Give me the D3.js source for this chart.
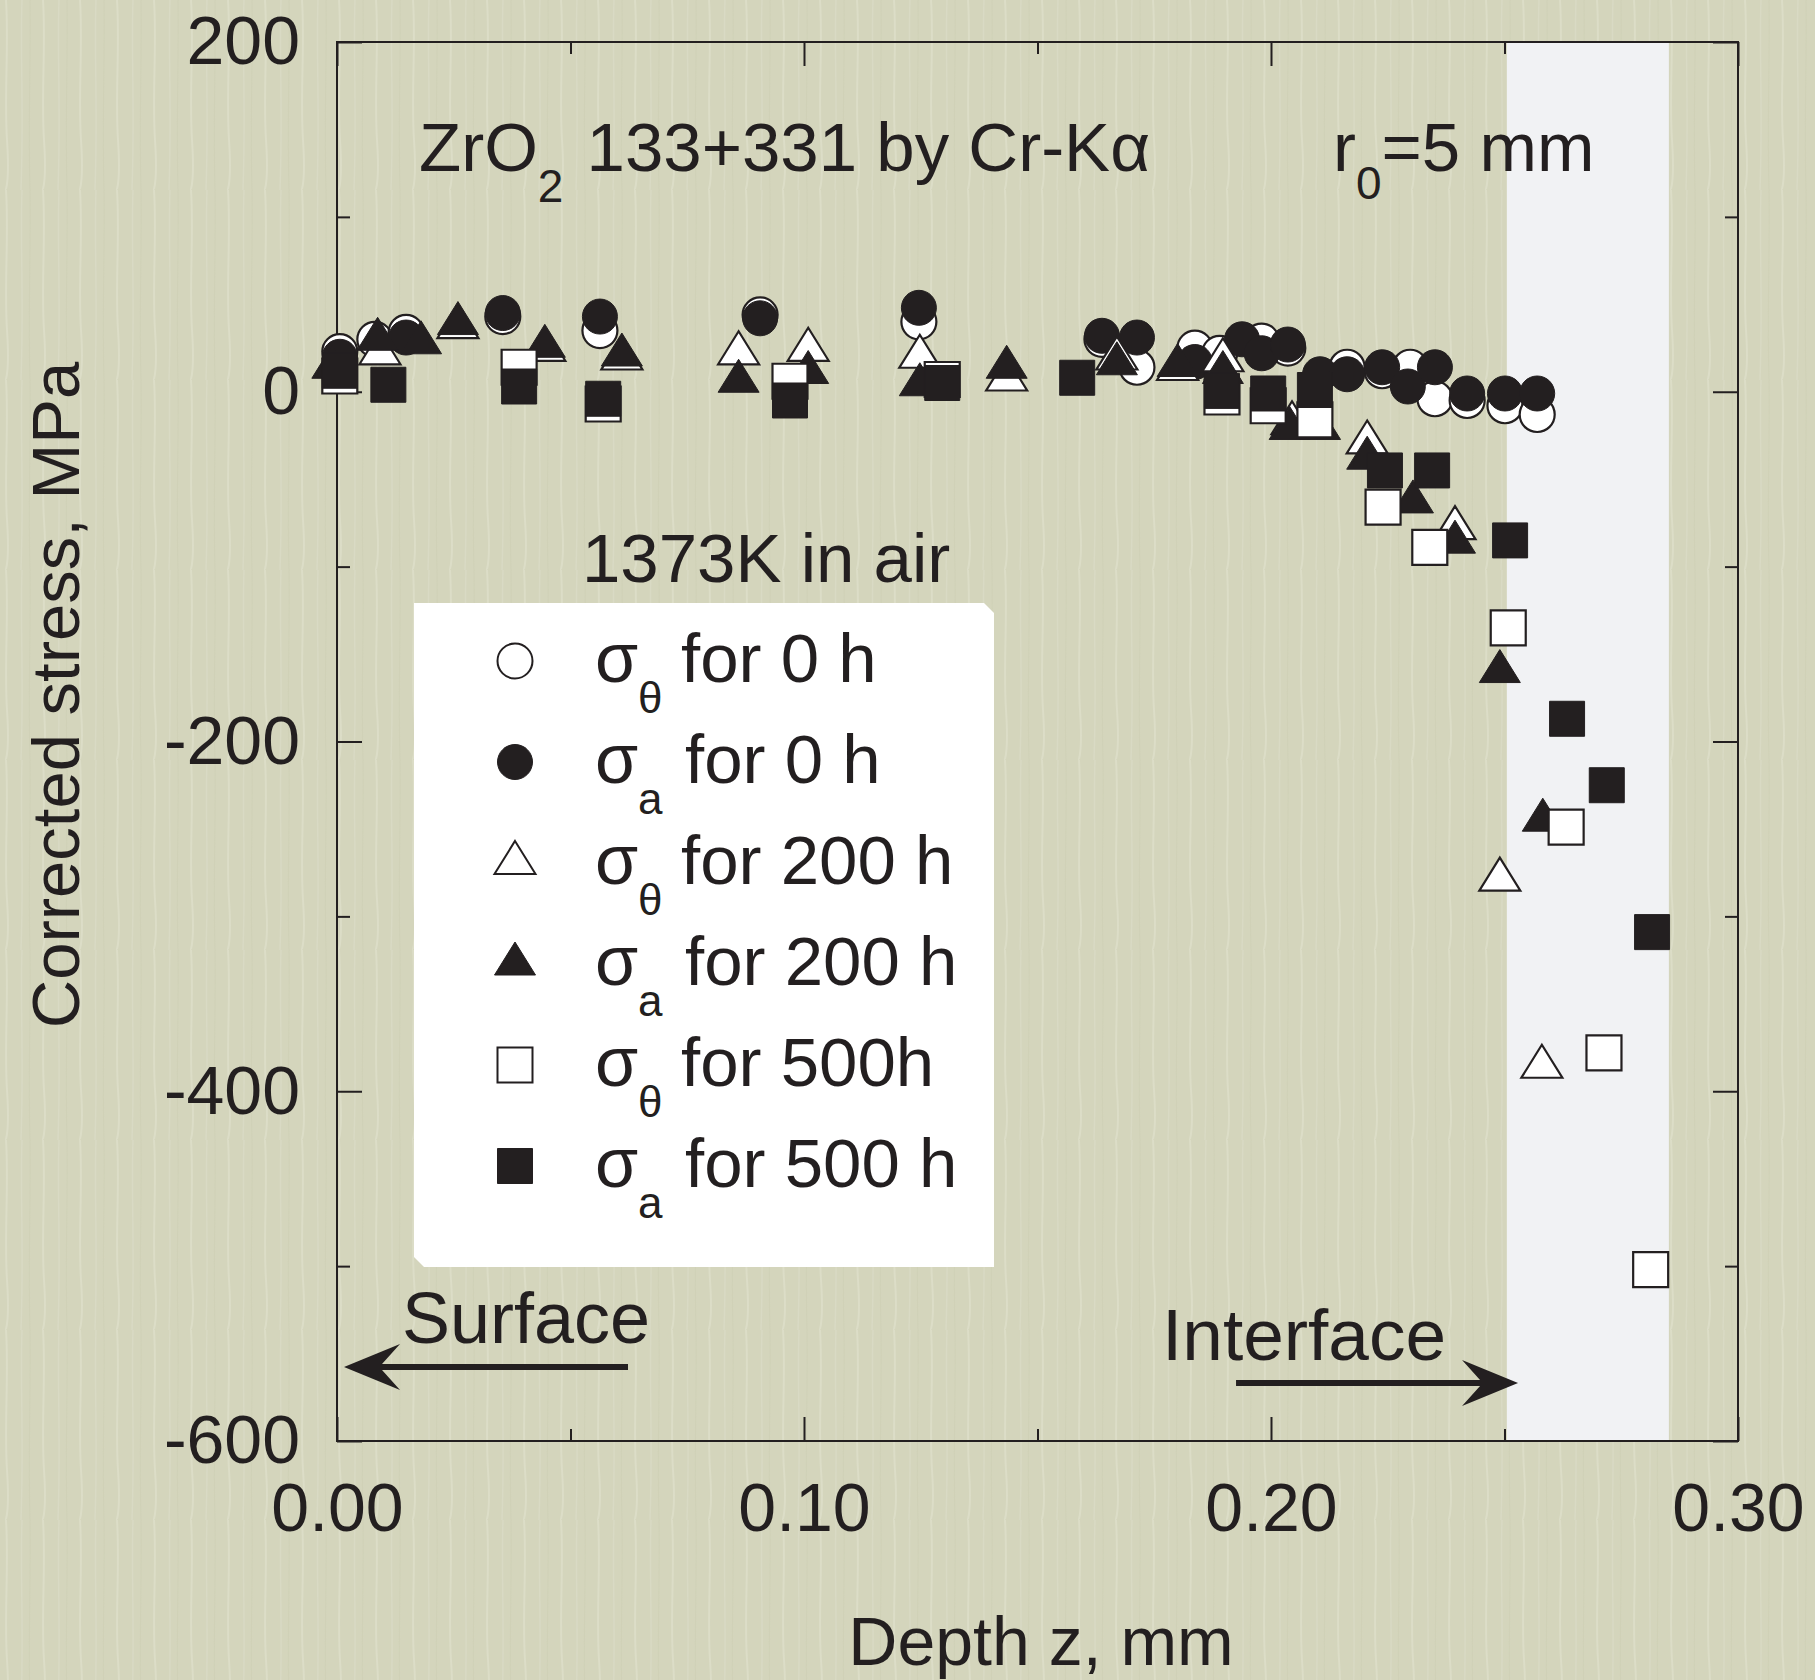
<!DOCTYPE html>
<meta charset="utf-8">
<style>
  body { margin: 0; background: #d4d5bc; }
  svg text { font-family: "Liberation Sans", Arial, Helvetica, sans-serif; fill: #231f20; }
  .axis path { display: none; }
  .axis line { stroke: #231f20; stroke-width: 2px; }
  .axis text { font-family: "Liberation Sans", Arial, sans-serif; font-size: 68px; fill: #231f20; }
</style>
<svg width="1815" height="1680"></svg>
<script src="https://d3js.org/d3.v7.min.js"></script>
<script>
  // tick values and labels
  var xMajorTicks = [0, 0.10, 0.20, 0.30];
  var xMinorTicks = [0.05, 0.15, 0.25];
  var xTickLabels = ["0.00", "0.10", "0.20", "0.30"];
  var yMajorTicks = [200, 0, -200, -400, -600];
  var yMinorTicks = [100, -100, -300, -500];
  var yTickLabels = ["200", "0", "-200", "-400", "-600"];

  // shaded interface zone (depth, mm)
  var interfaceZone = [0.2505, 0.2852];

  // [depth mm, stress MPa]
  var sigmaTheta0h = [[0.0006, 23], [0.0081, 30], [0.0148, 34], [0.0355, 43], [0.0563, 35], [0.0906, 44],
    [0.1246, 40], [0.1638, 30], [0.1713, 14], [0.1837, 25], [0.189, 22], [0.198, 29], [0.2036, 25],
    [0.2163, 14], [0.2238, 12], [0.2298, 14], [0.2351, -4], [0.242, -5], [0.2501, -8], [0.257, -13]];
  var sigmaA0h = [[0.0006, 20], [0.0148, 31], [0.0355, 45], [0.0563, 43], [0.0906, 42], [0.1246, 48],
    [0.1638, 32], [0.1713, 31], [0.1837, 17], [0.1938, 30], [0.198, 22], [0.2036, 27], [0.2105, 10],
    [0.2163, 10], [0.2238, 14], [0.2293, 3], [0.2351, 14], [0.242, -1], [0.2501, -1], [0.257, -1]];
  var sigmaTheta200h = [[0.0092, 22], [0.0259, 37], [0.0445, 24], [0.061, 19], [0.086, 22], [0.1009, 24],
    [0.1248, 20], [0.1434, 7], [0.167, 19], [0.18, 13], [0.1897, 18], [0.2045, -18], [0.2206, -29],
    [0.2394, -78], [0.249, -279], [0.258, -386]];
  var sigmaA200h = [[-0.001, 14], [0.0087, 30], [0.018, 28], [0.0259, 39], [0.0445, 26], [0.061, 21],
    [0.086, 6], [0.1009, 11], [0.1248, 4], [0.1434, 14], [0.167, 16], [0.18, 15], [0.1897, 11],
    [0.204, -21], [0.2105, -21], [0.2206, -38], [0.2304, -63], [0.2394, -86], [0.249, -160], [0.2582, -245]];
  var sigmaTheta500h = [[0.0006, 9], [0.039, 14], [0.057, -7], [0.097, 6], [0.1296, 7], [0.1895, -3],
    [0.1994, -8], [0.2094, -16], [0.224, -66], [0.234, -89], [0.2508, -135], [0.2632, -249],
    [0.2713, -378], [0.2813, -502]];
  var sigmaA500h = [[0.0006, 12], [0.011, 4], [0.039, 3], [0.057, -4], [0.097, -5], [0.1296, 5],
    [0.1585, 8], [0.1895, 0.5], [0.1994, -1], [0.2094, 1], [0.2244, -45], [0.2345, -45], [0.2512, -85],
    [0.2634, -187], [0.2719, -225], [0.2816, -309]];

  var seriesNames = ["for 0 h", "for 0 h", "for 200 h", "for 200 h", "for 500h", "for 500 h"];
  var seriesSubs = ["\u03b8", "a", "\u03b8", "a", "\u03b8", "a"];

  var series = [
    { data: sigmaTheta0h, shape: "circle", filled: false },
    { data: sigmaA0h, shape: "circle", filled: true },
    { data: sigmaTheta200h, shape: "triangle", filled: false },
    { data: sigmaA200h, shape: "triangle", filled: true },
    { data: sigmaTheta500h, shape: "square", filled: false },
    { data: sigmaA500h, shape: "square", filled: true }
  ];

  var svg = d3.select("svg"),
    margin = { top: 42, right: 77, bottom: 239, left: 337 },
    width = +svg.attr("width") - margin.left - margin.right,
    height = +svg.attr("height") - margin.top - margin.bottom;

  var ink = "#231f20";

  // background with faint vertical grain
  var defs = svg.append("defs");
  var pat = defs.append("pattern").attr("id", "grain")
    .attr("patternUnits", "userSpaceOnUse").attr("width", 37).attr("height", 190);
  pat.append("rect").attr("width", 37).attr("height", 190).attr("fill", "#d4d5bc");
  pat.append("path").attr("d", "M6,0 C9,45 4,95 7,140 S5,190 6,190").attr("stroke", "#dcddc7")
    .attr("stroke-width", 2).attr("fill", "none");
  pat.append("path").attr("d", "M22,0 C20,50 24,110 21,190").attr("stroke", "#d9dac4")
    .attr("stroke-width", 1.5).attr("fill", "none");
  pat.append("path").attr("d", "M30,0 C31,60 28,120 30,190").attr("stroke", "#cdcfb4")
    .attr("stroke-width", 1.2).attr("fill", "none").attr("opacity", 0.6);
  svg.append("rect").attr("width", 1815).attr("height", 1680).attr("fill", "url(#grain)");

  var x = d3.scaleLinear().domain([0, 0.30]).range([0, width]);
  var y = d3.scaleLinear().domain([-600, 200]).range([height, 0]);

  var g = svg.append("g")
    .attr("transform", "translate(" + margin.left + "," + margin.top + ")");

  // interface zone
  g.append("rect")
    .attr("x", x(interfaceZone[0]))
    .attr("y", 0)
    .attr("width", x(interfaceZone[1]) - x(interfaceZone[0]))
    .attr("height", height)
    .attr("fill", "#f1f2f4");

  // frame
  g.append("rect").attr("width", width).attr("height", height)
    .attr("fill", "none").attr("stroke", ink).attr("stroke-width", 2);

  // axes: major + minor ticks, all pointing inward
  g.append("g").attr("class", "axis")
    .attr("transform", "translate(0," + height + ")")
    .call(d3.axisBottom(x).tickValues(xMajorTicks).tickSize(-24).tickSizeOuter(0).tickPadding(42)
      .tickFormat(function (d, i) { return xTickLabels[i]; }));
  g.append("g").attr("class", "axis")
    .attr("transform", "translate(0," + height + ")")
    .call(d3.axisBottom(x).tickValues(xMinorTicks).tickSize(-12).tickSizeOuter(0).tickFormat(""));
  g.append("g").attr("class", "axis")
    .call(d3.axisTop(x).tickValues(xMajorTicks).tickSize(-24).tickSizeOuter(0).tickFormat(""));
  g.append("g").attr("class", "axis")
    .call(d3.axisTop(x).tickValues(xMinorTicks).tickSize(-12).tickSizeOuter(0).tickFormat(""));

  g.append("g").attr("class", "axis")
    .call(d3.axisLeft(y).tickValues(yMajorTicks).tickSize(-25).tickSizeOuter(0).tickPadding(37)
      .tickFormat(function (d, i) { return yTickLabels[i]; }));
  g.append("g").attr("class", "axis")
    .call(d3.axisLeft(y).tickValues(yMinorTicks).tickSize(-13).tickSizeOuter(0).tickFormat(""));
  g.append("g").attr("class", "axis")
    .attr("transform", "translate(" + width + ",0)")
    .call(d3.axisRight(y).tickValues(yMajorTicks).tickSize(-25).tickSizeOuter(0).tickFormat(""));
  g.append("g").attr("class", "axis")
    .attr("transform", "translate(" + width + ",0)")
    .call(d3.axisRight(y).tickValues(yMinorTicks).tickSize(-13).tickSizeOuter(0).tickFormat(""));

  // axis titles
  svg.append("text")
    .attr("x", 1041).attr("y", 1665)
    .attr("text-anchor", "middle")
    .style("font-size", "68px")
    .text("Depth z, mm");
  svg.append("text")
    .attr("transform", "translate(79,695) rotate(-90)")
    .attr("text-anchor", "middle")
    .style("font-size", "67px")
    .text("Corrected stress, MPa");

  // markers
  function markerPath(shape) {
    if (shape == "circle") return d3.symbol(d3.symbolCircle, Math.PI * 17.5 * 17.5)();
    if (shape == "square") return d3.symbol(d3.symbolSquare, 35 * 35)();
    return "M0,-22L20.5,11L-20.5,11Z";
  }

  series.forEach(function (s) {
    g.append("g").selectAll("path")
      .data(s.data)
      .enter().append("path")
      .attr("d", markerPath(s.shape))
      .attr("transform", function (d) { return "translate(" + x(d[0]) + "," + y(d[1]) + ")"; })
      .attr("fill", s.filled ? ink : "#ffffff")
      .attr("stroke", ink)
      .attr("stroke-width", s.filled ? 1 : 2.2);
  });

  // annotations
  var t1 = svg.append("text").attr("x", 419).attr("y", 171).style("font-size", "69px");
  t1.append("tspan").text("ZrO");
  t1.append("tspan").attr("dy", 31).style("font-size", "46px").text("2");
  t1.append("tspan").attr("dy", -31).attr("dx", 4).text(" 133+331 by Cr-K\u03b1");

  var t2 = svg.append("text").attr("x", 1333).attr("y", 171).style("font-size", "69px");
  t2.append("tspan").text("r");
  t2.append("tspan").attr("dy", 28).style("font-size", "46px").text("0");
  t2.append("tspan").attr("dy", -28).text("=5 mm");

  svg.append("text").attr("x", 582).attr("y", 582).style("font-size", "69px").text("1373K in air");

  svg.append("text").attr("x", 402).attr("y", 1343).style("font-size", "72px").text("Surface");
  svg.append("text").attr("x", 1162).attr("y", 1360).style("font-size", "73px").text("Interface");

  function arrow(tipX, tipY, dir, len) {
    svg.append("path")
      .attr("transform", "translate(" + tipX + "," + tipY + ") scale(" + dir + ",1)")
      .attr("d", "M0,0L56,-23L38,-3L" + len + ",-3L" + len + ",3L38,3L56,23Z")
      .attr("fill", ink);
  }
  arrow(margin.left + x(0.0015), 1367, 1, 284);
  arrow(margin.left + x(0.2529), 1383, -1, 282);

  // legend box
  var lg = svg.append("g");
  lg.append("path")
    .attr("d", "M414,603L984,603L994,613L994,1267L424,1267L414,1257Z")
    .attr("fill", "#ffffff");

  series.forEach(function (s, i) {
    var cy = 661 + i * 101;
    lg.append("path")
      .attr("d", markerPath(s.shape))
      .attr("transform", "translate(515," + cy + ")")
      .attr("fill", s.filled ? ink : "#ffffff")
      .attr("stroke", ink)
      .attr("stroke-width", s.filled ? 1 : 2);
    lg.append("text").attr("x", 595).attr("y", cy + 21).style("font-size", "70px").text("\u03c3");
    lg.append("text").attr("x", 638).attr("y", cy + 52).style("font-size", "44px").text(seriesSubs[i]);
    lg.append("text").attr("x", seriesSubs[i] == "a" ? 685 : 681).attr("y", cy + 21)
      .style("font-size", "69px").text(seriesNames[i]);
  });
</script>
